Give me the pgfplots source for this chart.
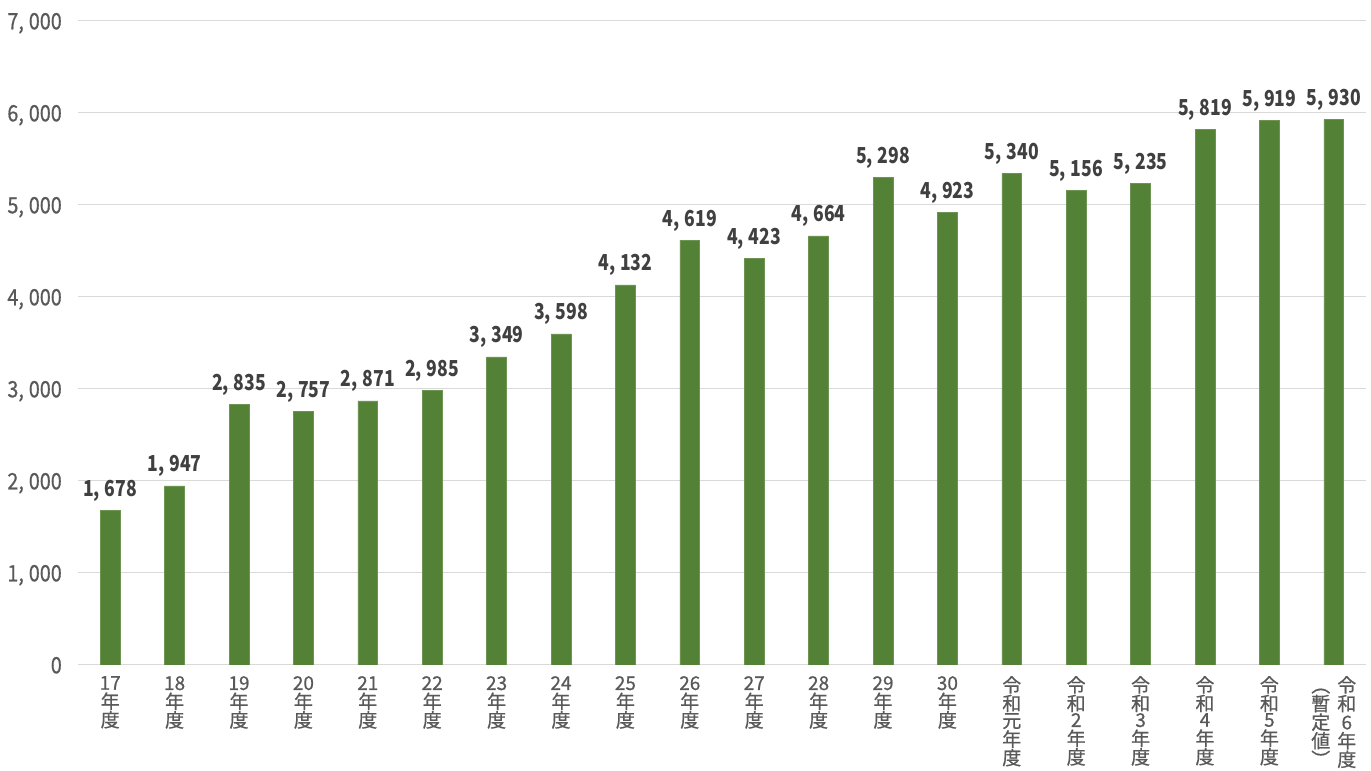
\documentclass[border=0pt]{standalone}
\usepackage{pgfplots}
\pgfplotsset{compat=1.18}
\usepackage{array}
\usepackage{fontspec}
\setmainfont{Noto Sans CJK JP}
\newfontfamily\ytfont[FakeStretch=0.88,FakeBold=0.6]{Noto Sans CJK JP}
\newfontfamily\valfont[FakeStretch=0.8]{Noto Sans CJK JP}
\newfontfamily\xtfont[FakeBold=0.6]{Noto Sans CJK JP}
\definecolor{barc}{HTML}{538135}
\definecolor{tickc}{HTML}{595959}
\definecolor{valc}{HTML}{404040}
\definecolor{gridc}{HTML}{D9D9D9}
\newcommand\vs{\rule[-2.6pt]{0pt}{15.6pt}}
\newcolumntype{C}{>{\vs}c}
\newcommand\vl[1]{{\renewcommand\arraystretch{0}\begin{tabular}{@{}C@{}}#1\end{tabular}}}
\newcommand\lastlabel{{\renewcommand\arraystretch{0}\begin{tabular}{@{}C@{\hspace{7pt}}C@{}}︵&令\\暫&和\\定&6\\値&年\\︶&度\end{tabular}}}
\begin{document}
\begin{tikzpicture}
\useasboundingbox (-78pt,-106pt) rectangle (1293pt,665pt);
\begin{axis}[
  at={(0pt,0pt)}, anchor=south west,
  scale only axis, width=1288pt, height=644pt,
  xmin=-0.5, xmax=19.5, ymin=0, ymax=7000,
  axis line style={draw=none},
  major tick length=0pt,
  ytick={0,1000,...,7000},
  ymajorgrids, grid style={gridc, line width=1pt},
  /pgf/number format/.cd, 1000 sep={,\hspace{0.22em}}, assume math mode=true,
  /pgfplots/.cd,
  yticklabel style={font=\ytfont\fontsize{22.5}{22.5}\selectfont, text=tickc, inner sep=0pt, anchor=base east, xshift=-16pt, yshift=-8.3pt},
  xtick={0,...,19},
  xticklabels={\vl{17\\年\\度},\vl{18\\年\\度},\vl{19\\年\\度},\vl{20\\年\\度},\vl{21\\年\\度},\vl{22\\年\\度},\vl{23\\年\\度},\vl{24\\年\\度},\vl{25\\年\\度},\vl{26\\年\\度},\vl{27\\年\\度},\vl{28\\年\\度},\vl{29\\年\\度},\vl{30\\年\\度},\vl{令\\和\\元\\年\\度},\vl{令\\和\\2\\年\\度},\vl{令\\和\\3\\年\\度},\vl{令\\和\\4\\年\\度},\vl{令\\和\\5\\年\\度},\lastlabel},
  xticklabel style={font=\xtfont\fontsize{19}{19}\selectfont, text=tickc, inner sep=0pt, anchor=north, yshift=-11pt},
  ybar, bar width=0.31,
  nodes near coords,
  nodes near coords style={font=\valfont\bfseries\fontsize{22}{22}\selectfont, text=valc, inner sep=0pt, anchor=base, text depth=0pt, yshift=14pt},
]
\addplot[fill=barc, draw=barc!85!white, line width=0.6pt] coordinates {
(0,1678) (1,1947) (2,2835) (3,2757) (4,2871) (5,2985) (6,3349) (7,3598) (8,4132) (9,4619)
(10,4423) (11,4664) (12,5298) (13,4923) (14,5340) (15,5156) (16,5235) (17,5819) (18,5919) (19,5930)};
\end{axis}
\end{tikzpicture}
\end{document}
